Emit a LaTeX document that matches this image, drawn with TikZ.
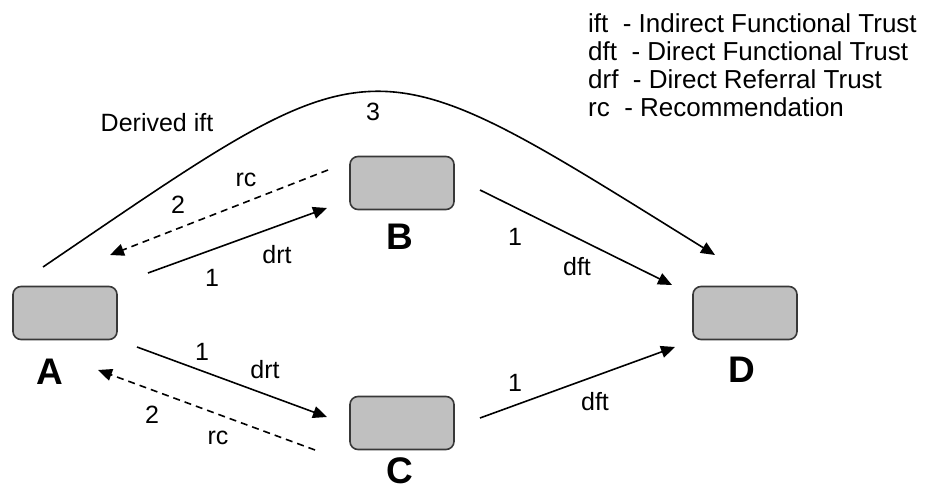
\documentclass[tikz,border=0pt]{standalone}
\usepackage{fontspec}
\setmainfont{Liberation Sans}
\usepackage{tikz}
\usetikzlibrary{arrows.meta}
\definecolor{boxfill}{HTML}{C0C0C0}
\definecolor{boxline}{HTML}{383838}

\begin{document}
\begin{tikzpicture}[x=1pt,y=-1pt]
              \tikzstyle{every node}+=[inner sep=0pt]
              \tikzstyle{agent}=[draw=boxline, fill=boxfill, line width=1.6pt, rounded corners=8pt, minimum width=104pt, minimum height=53pt]
              \tikzstyle{agentname}=[font=\fontsize{37}{37}\selectfont\bfseries]
              \tikzstyle{lbl}=[font=\fontsize{25}{25}\selectfont]
              \tikzstyle{trust}=[black, line width=1.6pt, -{Triangle[length=14pt,width=12pt]}]
              \tikzstyle{rec}=[trust, dash pattern=on 7pt off 5pt]
              \useasboundingbox (0,0) rectangle (935,492);
              \node [agent] (A) at (65,313) {};
              \node [agent] (B) at (402,183) {};
              \node [agent] (C) at (402,423) {};
              \node [agent] (D) at (745,313) {};
              \node [agentname] (nameA) at (50,372) {A};
              \node [agentname] (nameB) at (400,237) {B};
              \node [agentname] (nameC) at (400,471) {C};
              \node [agentname] (nameD) at (742,370) {D};
              \draw [trust] ([shift={(-22,-46)}]A.center) .. controls (383,36) and (362,36) .. ([shift={(-30,-58)}]D.center);
              \node [lbl] (derived) at (157,123) {Derived ift};
              \node [lbl] (three) at (373,112) {3};
              \draw [trust] ([shift={(83,-40)}]A.center) -- ([shift={(-75,25)}]B.center);
              \node [lbl] (abone) at (212,278) {1};
              \node [lbl] (abdrt) at (277,255) {drt};
              \draw [rec] ([shift={(-74,-13)}]B.center) -- ([shift={(45,-58)}]A.center);
              \node [lbl] (batwo) at (178,205) {2};
              \node [lbl] (barc) at (246,180) {rc};
              \draw [trust] ([shift={(72,34)}]A.center) -- ([shift={(-75,-6)}]C.center);
              \node [lbl] (acone) at (202,352) {1};
              \node [lbl] (acdrt) at (265,370) {drt};
              \draw [rec] ([shift={(-87,27)}]C.center) -- ([shift={(33,57)}]A.center);
              \node [lbl] (catwo) at (152,415) {2};
              \node [lbl] (carc) at (218,438) {rc};
              \draw [trust] ([shift={(78,7)}]B.center) -- ([shift={(-73,-28)}]D.center);
              \node [lbl] (bdone) at (515,237) {1};
              \node [lbl] (bddft) at (577,267) {dft};
              \draw [trust] ([shift={(78,-5)}]C.center) -- ([shift={(-70,34)}]D.center);
              \node [lbl] (cdone) at (515,383) {1};
              \node [lbl] (cddft) at (595,402) {dft};
              \node [anchor=north west, align=left, font=\fontsize{26}{28}\selectfont] (legend) at (588,13) {ift \ - Indirect Functional Trust\\dft \ - Direct Functional Trust\\drf \ - Direct Referral Trust\\rc \ - Recommendation};
            \end{tikzpicture}
\end{document}
